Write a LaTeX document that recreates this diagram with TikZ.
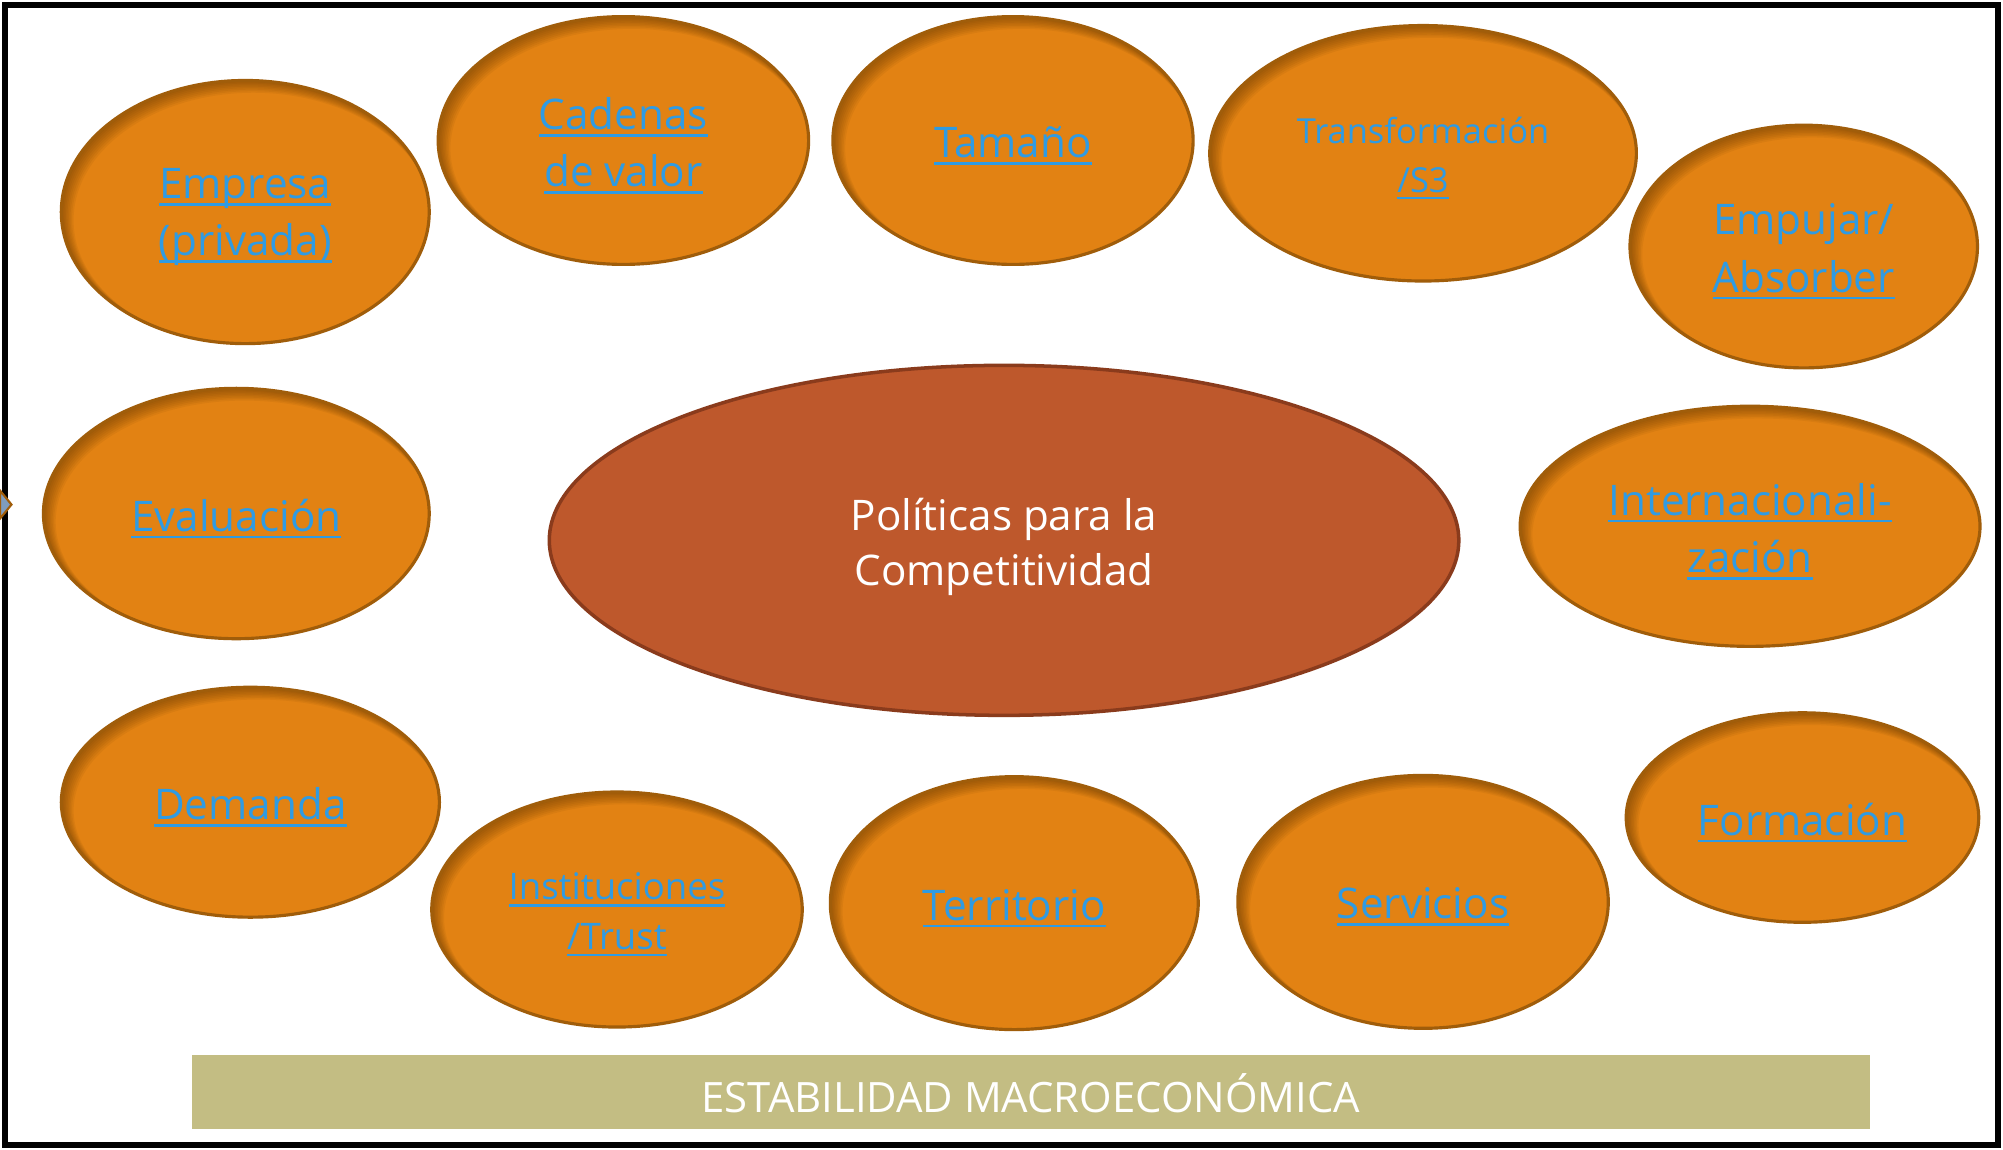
\documentclass[tikz,border=0pt]{standalone}
\usepackage{fontspec}
\setmainfont{Open Sans}
\newsavebox{\ulbox}
\newcommand{\uln}[1]{\sbox{\ulbox}{#1}\leavevmode\rlap{\rule[-2.05pt]{\wd\ulbox}{0.75pt}}\usebox{\ulbox}}
\definecolor{orfill}{HTML}{E28213}
\definecolor{orborder}{HTML}{A05D0A}
\definecolor{shadowc}{HTML}{5C3200}
\definecolor{linkblue}{HTML}{2F9BE3}
\definecolor{ctrfill}{HTML}{BE582C}
\definecolor{ctrborder}{HTML}{8A3B1C}
\definecolor{bannerc}{HTML}{C3BD83}
\definecolor{diamondc}{HTML}{7F9DBE}
\newcommand{\fa}{\fontsize{12pt}{16.3pt}\selectfont}
\newcommand{\fb}{\fontsize{10.4pt}{14pt}\selectfont}
\newcommand{\fc}{\fontsize{9.8pt}{13.8pt}\selectfont}
\tikzset{
  blobborder/.style={draw=orborder, line width=0.9pt},
  lbl/.style={text=linkblue, align=center, inner sep=0pt},
}
% name, cx, cy, rx, ry, font, text
\newcommand{\blob}[7]{%
  \fill[orfill] (#2,#3) ellipse [x radius=#4, y radius=#5];
  \begin{scope}
    \clip (#2,#3) ellipse [x radius=#4, y radius=#5];
    \foreach \k in {1,...,8}{
      \fill[shadowc, opacity=0.075, even odd rule]
        (#2,#3) ellipse [x radius={#4+30}, y radius={#5+30}]
        ({#2+0.8*\k},{#3+0.8*\k}) ellipse [x radius={#4-0.4*\k}, y radius={#5-0.4*\k}];
    }
  \end{scope}
  \draw[blobborder] (#2,#3) ellipse [x radius=#4, y radius=#5];
  \node[lbl, font=#6] (#1) at (#2,{#3+4}) {#7};
}
\begin{document}
\begin{tikzpicture}[x=0.012774cm, y=-0.012774cm]
\useasboundingbox (0,0) rectangle (1568,900);
\fill[white] (0,0) rectangle (1568,900);

% central ellipse
\fill[ctrfill] (786,423) ellipse [x radius=356, y radius=137];
\draw[ctrborder, line width=1pt] (786,423) ellipse [x radius=356, y radius=137];
\node[text=white, align=center, inner sep=0pt, font=\fontsize{12pt}{15.8pt}\selectfont] (ctr) at (786,428) {Políticas para la\\Competitividad};

% surrounding ellipses
\blob{empresa}{192}{166}{144}{103}{\fa}{\uln{Empresa}\\\uln{(privada)}}
\blob{cadenas}{488}{110}{145}{97}{\fa}{\uln{Cadenas}\\\uln{de valor}}
\blob{tamano}{793}{110}{141}{97}{\fa}{\uln{Tamaño}}
\blob{transf}{1114}{120}{167}{100}{\fc}{Transformación\\\uln{/S3}}
\blob{empujar}{1412}{193}{136}{95}{\fa}{Empujar/\\\uln{Absorber}}
\blob{evaluacion}{185}{402}{151}{98}{\fa}{\uln{Evaluación}}
\blob{internac}{1370}{412}{180}{94}{\fa}{\uln{Internacionali-}\\\uln{zación}}
\blob{demanda}{196}{628}{148}{90}{\fa}{\uln{Demanda}}
\blob{instit}{483}{712}{145}{92}{\fb}{\uln{Instituciones}\\\uln{/Trust}}
\blob{territorio}{794}{707}{144}{99}{\fa}{\uln{Territorio}}
\blob{servicios}{1114}{706}{145}{99}{\fa}{\uln{Servicios}}
\blob{formacion}{1411}{640}{138}{82}{\fa}{\uln{Formación}}

% banner
\fill[bannerc] (150,826) rectangle (1464,884);
\node[text=white, inner sep=0pt, font=\fontsize{11.9pt}{13pt}\selectfont] (banner) at (807,856) {ESTABILIDAD MACROECONÓMICA};

% frame
\draw[black, line width=1.7pt] (4,4) rectangle (1564,896);

% small marker at left edge
\filldraw[fill=diamondc, draw=orborder, line width=0.6pt] (0,384) -- (9,395) -- (0,406) -- cycle;
\end{tikzpicture}
\end{document}
